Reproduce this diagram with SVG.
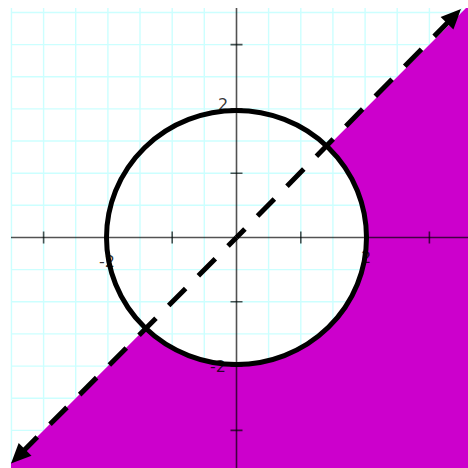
<svg xmlns="http://www.w3.org/2000/svg" width="468" height="468" viewBox="0 0 468 468">
<style>
.grid line{stroke:#ccffff;stroke-width:1.4}
.axis{stroke:#000;stroke-opacity:0.68;stroke-width:1.6;fill:none}
.lbl{font-family:"DejaVu Sans","Liberation Sans",sans-serif;font-size:16px;fill:#000;fill-opacity:0.8}
.dash{stroke:#000;stroke-width:5;stroke-dasharray:24 18;stroke-dashoffset:12;fill:none}
.head{fill:#000}
</style>
<rect width="468" height="468" fill="#fff"/>
<g id="grid" class="grid">
<line x1="11.45" y1="8" x2="11.45" y2="468"/>
<line x1="43.6" y1="8" x2="43.6" y2="468"/>
<line x1="75.7" y1="8" x2="75.7" y2="468"/>
<line x1="107.9" y1="8" x2="107.9" y2="468"/>
<line x1="140" y1="8" x2="140" y2="468"/>
<line x1="172.2" y1="8" x2="172.2" y2="468"/>
<line x1="204.3" y1="8" x2="204.3" y2="468"/>
<line x1="268.6" y1="8" x2="268.6" y2="468"/>
<line x1="300.8" y1="8" x2="300.8" y2="468"/>
<line x1="332.9" y1="8" x2="332.9" y2="468"/>
<line x1="365.1" y1="8" x2="365.1" y2="468"/>
<line x1="397.2" y1="8" x2="397.2" y2="468"/>
<line x1="429.4" y1="8" x2="429.4" y2="468"/>
<line x1="461.5" y1="8" x2="461.5" y2="468"/>
<line x1="11" y1="12.45" x2="468" y2="12.45"/>
<line x1="11" y1="44.6" x2="468" y2="44.6"/>
<line x1="11" y1="76.7" x2="468" y2="76.7"/>
<line x1="11" y1="108.9" x2="468" y2="108.9"/>
<line x1="11" y1="141" x2="468" y2="141"/>
<line x1="11" y1="173.2" x2="468" y2="173.2"/>
<line x1="11" y1="205.3" x2="468" y2="205.3"/>
<line x1="11" y1="269.6" x2="468" y2="269.6"/>
<line x1="11" y1="301.8" x2="468" y2="301.8"/>
<line x1="11" y1="333.9" x2="468" y2="333.9"/>
<line x1="11" y1="366.1" x2="468" y2="366.1"/>
<line x1="11" y1="398.2" x2="468" y2="398.2"/>
<line x1="11" y1="430.4" x2="468" y2="430.4"/>
<line x1="11" y1="462.5" x2="468" y2="462.5"/>
</g>
<g id="region">
<path d="M466 8 L468 8 L468 468 L11 468 L11 463 L145.65 328.35 A130 127 0 1 0 327.35 146.65 Z" fill="#cc00cc"/>
</g>
<g id="axes" class="axis">
<path d="M11 237.5 H468 M236.5 8 V468"/>
<path d="M43.6 231.5 V243.5 M107.9 231.5 V243.5 M172.2 231.5 V243.5 M300.8 231.5 V243.5 M365.1 231.5 V243.5 M429.4 231.5 V243.5"/>
<path d="M230.5 44.6 H242.5 M230.5 108.9 H242.5 M230.5 173.2 H242.5 M230.5 301.8 H242.5 M230.5 366.1 H242.5 M230.5 430.4 H242.5"/>
</g>
<g id="labels">
<text class="lbl" x="223" y="110" text-anchor="middle">2</text>
<text class="lbl" x="107" y="267" text-anchor="middle">-2</text>
<text class="lbl" x="366" y="263" text-anchor="middle">2</text>
<text class="lbl" x="218" y="372" text-anchor="middle">-2</text>
</g>
<g id="circle">
<ellipse cx="236.5" cy="237.5" rx="130" ry="127" fill="none" stroke="#000" stroke-width="5"/>
</g>
<g id="connectors">
<line class="dash" x1="236.5" y1="237.5" x2="448" y2="22.3"/>
<line class="dash" x1="236.5" y1="237.5" x2="24.4" y2="450"/>
<polygon class="head" points="461,9 453.4,29.6 440.6,17"/>
<polygon class="head" points="11,463.5 18.7,442.9 31.5,455.7"/>
</g>
</svg>
